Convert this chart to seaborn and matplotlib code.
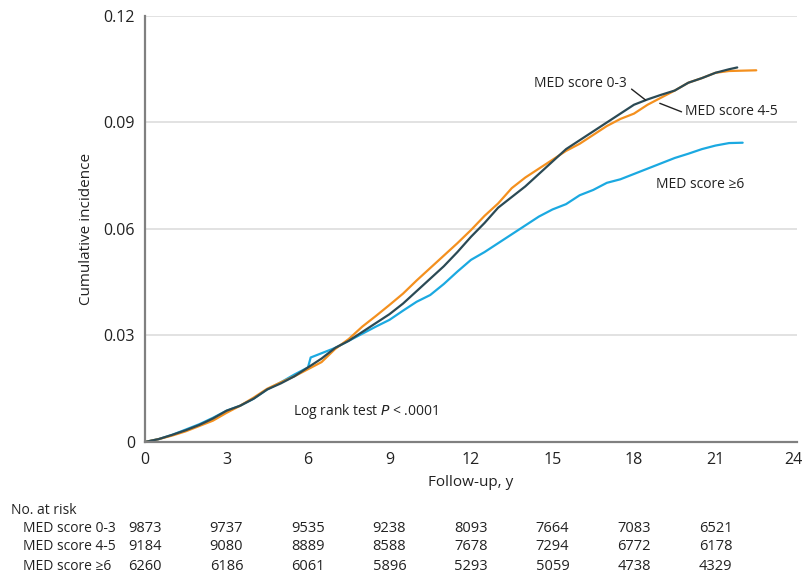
import numpy as np
import pandas as pd
import seaborn as sns
import matplotlib.pyplot as plt
from matplotlib.transforms import blended_transform_factory, ScaledTranslation

# cumulative incidence curves
t_low = [0, 0.5, 1, 1.5, 2, 2.5, 3, 3.5, 4, 4.5, 5, 5.5, 6, 6.5, 7, 7.5, 8, 8.5, 9, 9.5,
         10, 10.5, 11, 11.5, 12, 12.5, 13, 13.5, 14, 14.5, 15, 15.5, 16, 16.5, 17, 17.5,
         18, 18.5, 19, 19.5, 20, 20.5, 21, 21.5, 21.8]
ci_low = [0, 0.0008, 0.002, 0.0033, 0.0048, 0.0066, 0.0088, 0.0102, 0.0122, 0.0148, 0.0165,
          0.0185, 0.021, 0.0235, 0.0265, 0.0285, 0.031, 0.0335, 0.036, 0.039, 0.0425, 0.046,
          0.0495, 0.0535, 0.0578, 0.0617, 0.066, 0.069, 0.072, 0.0755, 0.079, 0.0825, 0.085,
          0.0875, 0.090, 0.0925, 0.095, 0.0965, 0.0978, 0.099, 0.1012, 0.1025, 0.104, 0.105, 0.1055]

t_mid = [0, 0.5, 1, 1.5, 2, 2.5, 3, 3.5, 4, 4.5, 5, 5.5, 6, 6.5, 7, 7.5, 8, 8.5, 9, 9.5,
         10, 10.5, 11, 11.5, 12, 12.5, 13, 13.5, 14, 14.5, 15, 15.5, 16, 16.5, 17, 17.5,
         18, 18.5, 19, 19.5, 20, 20.5, 21, 21.5, 22, 22.5]
ci_mid = [0, 0.0008, 0.0018, 0.003, 0.0045, 0.006, 0.0082, 0.0102, 0.0125, 0.015, 0.0168,
          0.0185, 0.0205, 0.0225, 0.0262, 0.029, 0.0325, 0.0355, 0.0386, 0.0418, 0.0455, 0.049,
          0.0525, 0.056, 0.0597, 0.0637, 0.0672, 0.0715, 0.0745, 0.077, 0.0795, 0.082, 0.084,
          0.0865, 0.089, 0.091, 0.0925, 0.095, 0.097, 0.099, 0.1012, 0.1025, 0.104, 0.1045,
          0.1046, 0.1047]

t_high = [0, 0.5, 1, 1.5, 2, 2.5, 3, 3.5, 4, 4.5, 5, 5.5, 6, 6.1, 6.5, 7, 7.5, 8, 8.5, 9, 9.5,
          10, 10.5, 11, 11.5, 12, 12.5, 13, 13.5, 14, 14.5, 15, 15.5, 16, 16.5, 17, 17.5,
          18, 18.5, 19, 19.5, 20, 20.5, 21, 21.5, 22]
ci_high = [0, 0.0008, 0.002, 0.0035, 0.005, 0.0068, 0.0088, 0.0102, 0.0122, 0.0148, 0.0168,
           0.019, 0.021, 0.0238, 0.025, 0.0265, 0.0285, 0.0305, 0.0325, 0.0344, 0.037, 0.0395,
           0.0414, 0.0445, 0.048, 0.0513, 0.0535, 0.056, 0.0585, 0.061, 0.0635, 0.0655, 0.067,
           0.0695, 0.071, 0.073, 0.074, 0.0755, 0.077, 0.0785, 0.080, 0.0812, 0.0825, 0.0835,
           0.0842, 0.0843]

groups = ['MED score 0-3', 'MED score 4-5', 'MED score \u22656']
colors = ['#2b4a55', '#f4901e', '#1ba9e1']

risk_times = [0, 3, 6, 9, 12, 15, 18, 21]
risk_low = [9873, 9737, 9535, 9238, 8093, 7664, 7083, 6521]
risk_mid = [9184, 9080, 8889, 8588, 7678, 7294, 6772, 6178]
risk_high = [6260, 6186, 6061, 5896, 5293, 5059, 4738, 4329]

df = pd.concat([
    pd.DataFrame({'t': t_low, 'ci': ci_low, 'group': groups[0]}),
    pd.DataFrame({'t': t_mid, 'ci': ci_mid, 'group': groups[1]}),
    pd.DataFrame({'t': t_high, 'ci': ci_high, 'group': groups[2]}),
])

sns.set_style('white')
plt.rcParams['font.family'] = ['Open Sans', 'DejaVu Sans']
txt = '#222222'

fig = plt.figure(figsize=(8.04, 5.77), dpi=100)
ax = fig.add_axes([0.1803, 0.234, 0.811, 0.7383])

for y in [0.03, 0.06, 0.09, 0.12]:
    ax.axhline(y, color='#dddddd', lw=1.2, zorder=0)

# draw high first so dark/orange are on top
sns.lineplot(data=df, x='t', y='ci', hue='group', hue_order=groups[::-1],
             palette=dict(zip(groups, colors)), estimator=None, sort=False,
             legend=False, linewidth=1.6, ax=ax)

ax.set_xlim(0, 24)
ax.set_ylim(0, 0.12)
ax.set_xticks(range(0, 25, 3))
ax.set_yticks([0, 0.03, 0.06, 0.09, 0.12])
ax.set_yticklabels(['0', '0.03', '0.06', '0.09', '0.12'])
ax.tick_params(axis='both', direction='out', length=5, width=1.2, color='#808080',
               labelsize=11.5, labelcolor=txt, pad=2)
# nudge the last x label so it stays inside the figure
last = ax.get_xticklabels()[-1]
last.set_transform(last.get_transform() + ScaledTranslation(-4 / 100, 0, fig.dpi_scale_trans))
for s in ['top', 'right']:
    ax.spines[s].set_visible(False)
for s in ['left', 'bottom']:
    ax.spines[s].set_color('#808080')
    ax.spines[s].set_linewidth(1.6)
ax.set_xlabel('Follow-up, y', fontsize=11, color=txt, labelpad=5)
ax.set_ylabel('Cumulative incidence', fontsize=11, color=txt, labelpad=7)

# curve labels
ax.text(17.75, 0.1011, 'MED score 0-3', ha='right', va='center', fontsize=10, color=txt)
ax.plot([17.91, 18.43], [0.0994, 0.0963], color=txt, lw=1)
ax.text(19.87, 0.0930, 'MED score 4-5', ha='left', va='center', fontsize=10, color=txt)
ax.plot([18.95, 19.75], [0.0954, 0.0930], color=txt, lw=1)
ax.text(18.8, 0.0724, 'MED score \u22656', ha='left', va='center', fontsize=10, color=txt)
ax.text(5.46, 0.0087, 'Log rank test $\\it{P}$ < .0001', ha='left', va='center',
        fontsize=10, color=txt)

# number at risk table
tr = blended_transform_factory(ax.transData, fig.transFigure)
fig.text(11 / 804, 1 - 510 / 577, 'No. at risk', ha='left', va='center', fontsize=10, color=txt)
rows = [risk_low, risk_mid, risk_high]
row_y = [528, 547, 567]
for g, vals, py in zip(groups, rows, row_y):
    fy = 1 - py / 577
    fig.text(23 / 804, fy, g, ha='left', va='center', fontsize=10, color=txt)
    for tt, v in zip(risk_times, vals):
        ax.text(tt, fy, str(v), transform=tr, ha='center', va='center', fontsize=10.5,
                color=txt, clip_on=False)

fig.savefig('out.png', dpi=100)
